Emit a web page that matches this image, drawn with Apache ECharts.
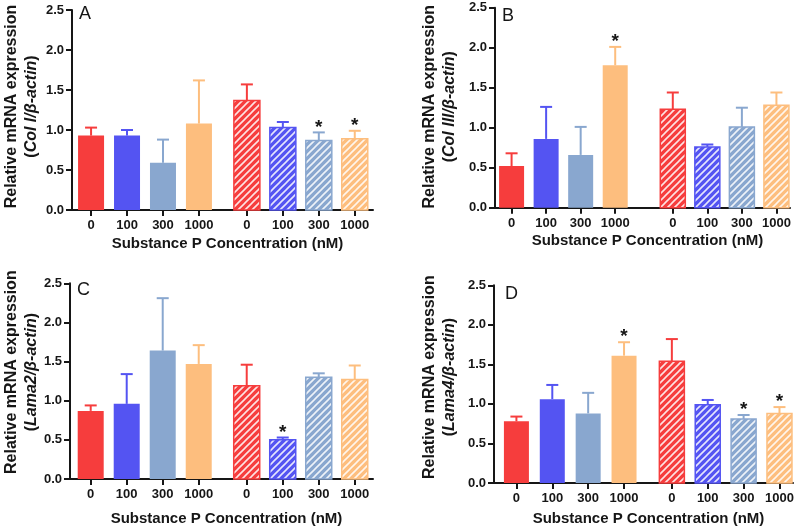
<!DOCTYPE html>
<html><head><meta charset="utf-8">
<script src="https://cdn.jsdelivr.net/npm/echarts@6/dist/echarts.min.js"></script>
<style>html,body{margin:0;padding:0;background:#fff}#c{width:800px;height:527px}</style>
</head><body><div id="c"></div>
<script>
// ---- data ----
const concLabels = ['0','100','300','1000','0','100','300','1000'];
const yTicks = [0, 0.5, 1.0, 1.5, 2.0, 2.5];
const panelLetters = ['A','B','C','D'];
const geneNames = ['Col I','Col III','Lama2','Lama4'];
const xTitle = 'Substance P Concentration (nM)';
const yTitle = 'Relative mRNA expression';

const meanA = [0.93, 0.93, 0.59, 1.08, 1.37, 1.03, 0.87, 0.89];
const semA  = [0.10, 0.07, 0.29, 0.54, 0.20, 0.07, 0.10, 0.10];
const sigA  = [0, 0, 0, 0, 0, 0, 1, 1];

const meanB = [0.52, 0.86, 0.66, 1.78, 1.23, 0.76, 1.01, 1.28];
const semB  = [0.16, 0.40, 0.35, 0.23, 0.21, 0.03, 0.24, 0.16];
const sigB  = [0, 0, 0, 1, 0, 0, 0, 0];

const meanC = [0.87, 0.96, 1.64, 1.47, 1.19, 0.50, 1.30, 1.27];
const semC  = [0.07, 0.38, 0.67, 0.24, 0.27, 0.03, 0.05, 0.18];
const sigC  = [0, 0, 0, 0, 0, 1, 0, 0];

const meanD = [0.78, 1.06, 0.88, 1.61, 1.54, 0.99, 0.81, 0.88];
const semD  = [0.06, 0.18, 0.26, 0.17, 0.28, 0.06, 0.05, 0.08];
const sigD  = [0, 0, 0, 1, 0, 0, 1, 1];

const panelsData = [
  {mean: meanA, sem: semA, sig: sigA},
  {mean: meanB, sem: semB, sig: sigB},
  {mean: meanC, sem: semC, sig: sigC},
  {mean: meanD, sem: semD, sig: sigD}
];

// ---- layout / style ----
const FONT = '"Liberation Sans", Arial, sans-serif';
const INK = '#161616';
const colors = ['#f63d3d', '#5454f2', '#89a7cf', '#fdbe7e'];
const layout = [
  {left: 72,  top: 10,    width: 301, min: -0.53,  max: 7.84, gap: 0.333, bw: 26, letter: [79, 14],   yGap: 30, xGap: 26, yShift: 7},
  {left: 495, top: 7.7,   width: 295, min: -0.48,  max: 8.06, gap: 0.667, bw: 25, letter: [502, 16],  yGap: 35, xGap: 26, yShift: 2},
  {left: 70,  top: 283.3, width: 303, min: -0.575, max: 7.84, gap: 0.333, bw: 26, letter: [77, 290],  yGap: 28, xGap: 32, yShift: 18},
  {left: 494, top: 285.3, width: 299, min: -0.625, max: 7.71, gap: 0.333, bw: 25, letter: [505, 294], yGap: 34, xGap: 28, yShift: 14}
];

const patternCache = {};
function hatch(color) {
  if (patternCache[color]) return patternCache[color];
  const s = 7, c = document.createElement('canvas');
  c.width = s; c.height = s;
  const g = c.getContext('2d');
  g.fillStyle = color; g.fillRect(0, 0, s, s);
  g.strokeStyle = 'rgba(255,255,255,0.85)'; g.lineWidth = 1.6;
  g.beginPath();
  g.moveTo(-1, s + 1); g.lineTo(s + 1, -1);
  g.moveTo(-1, 1); g.lineTo(1, -1);
  g.moveTo(s - 1, s + 1); g.lineTo(s + 1, s - 1);
  g.stroke();
  patternCache[color] = c;
  return c;
}

function positions(p) {
  return concLabels.map((_, i) => i + (i >= 4 ? p.gap : 0));
}

function makeRender(p) {
  return function (params, api) {
    const x = api.value(0), m = api.value(1), e = api.value(2), sig = api.value(3), k = api.value(4);
    const base = api.coord([x, 0]), top = api.coord([x, m]), et = api.coord([x, m + e]);
    const col = colors[k % 4];
    const hatched = k >= 4;
    const w = p.bw;
    const children = [];
    children.push({type: 'line', shape: {x1: top[0], y1: top[1], x2: et[0], y2: et[1]}, style: {stroke: col, lineWidth: 2}});
    children.push({type: 'line', shape: {x1: et[0] - 6, y1: et[1], x2: et[0] + 6, y2: et[1]}, style: {stroke: col, lineWidth: 2}});
    children.push({
      type: 'rect',
      shape: {x: base[0] - w / 2, y: top[1], width: w, height: base[1] - top[1]},
      style: hatched ? {fill: {image: hatch(col), repeat: 'repeat'}, stroke: col, lineWidth: 1.5} : {fill: col}
    });
    if (sig) {
      children.push({type: 'text', style: {text: '*', x: et[0], y: et[1] - 5, align: 'center', verticalAlign: 'middle',
        fontSize: 19, fontWeight: 'bold', fontFamily: FONT, fill: INK}});
    }
    return {type: 'group', children};
  };
}

const grids = [], xAxes = [], yAxes = [], series = [], graphics = [];
layout.forEach((p, i) => {
  const pos = positions(p);
  const d = panelsData[i];
  grids.push({left: p.left, top: p.top, width: p.width, height: 200, containLabel: false});
  xAxes.push({
    gridIndex: i, type: 'value', min: p.min, max: p.max,
    axisLine: {show: true, onZero: false, lineStyle: {color: INK, width: 2}},
    axisTick: {show: true, customValues: pos, length: 6, lineStyle: {color: INK, width: 2}},
    axisLabel: {show: true, customValues: pos, margin: 9, fontSize: 13, fontWeight: 'bold', fontFamily: FONT, color: INK,
      formatter: v => { const j = pos.findIndex(q => Math.abs(q - v) < 1e-6); return j >= 0 ? concLabels[j] : ''; }},
    splitLine: {show: false},
    name: xTitle, nameLocation: 'middle', nameGap: p.xGap,
    nameTextStyle: {fontSize: 15, fontWeight: 'bold', fontFamily: FONT, color: INK, padding: [0, 0, 0, 10]}
  });
  yAxes.push({
    gridIndex: i, type: 'value', min: 0, max: 2.5, interval: 0.5,
    axisLine: {show: true, onZero: false, lineStyle: {color: INK, width: 2}},
    axisTick: {show: true, inside: false, length: 6, lineStyle: {color: INK, width: 2}},
    axisLabel: {margin: 8, fontSize: 13, fontWeight: 'bold', fontFamily: FONT, color: INK,
      formatter: v => { const j = yTicks.findIndex(q => Math.abs(q - v) < 1e-6); return j >= 0 ? yTicks[j].toFixed(1) : ''; }},
    splitLine: {show: false},
    name: '{a|' + yTitle + '}\n{p|(}{i|' + geneNames[i] + '/β-actin}{p|)}',
    nameLocation: 'middle', nameGap: p.yGap, nameRotate: 90,
    nameTextStyle: {
      padding: [0, 0, 0, p.yShift],
      rich: {
        a: {fontSize: 16, fontWeight: 'bold', fontFamily: FONT, color: INK, lineHeight: 20},
        p: {fontSize: 16, fontWeight: 'bold', fontFamily: FONT, color: INK, lineHeight: 20},
        i: {fontSize: 16, fontWeight: 'bold', fontStyle: 'italic', fontFamily: FONT, color: INK, lineHeight: 20}
      }
    }
  });
  series.push({
    type: 'custom', xAxisIndex: i, yAxisIndex: i, clip: false,
    renderItem: makeRender(p),
    data: d.mean.map((m, k) => [pos[k], m, d.sem[k], d.sig[k], k])
  });
  graphics.push({type: 'text', x: p.letter[0], y: p.letter[1],
    style: {text: panelLetters[i], fontSize: 18, fontFamily: FONT, fill: INK, verticalAlign: 'middle', align: 'left'}});
});

const chart = echarts.init(document.getElementById('c'), null, {renderer: 'canvas'});
chart.setOption({
  animation: false,
  backgroundColor: '#fff',
  grid: grids, xAxis: xAxes, yAxis: yAxes, series: series, graphic: graphics
});
</script>
</body></html>
